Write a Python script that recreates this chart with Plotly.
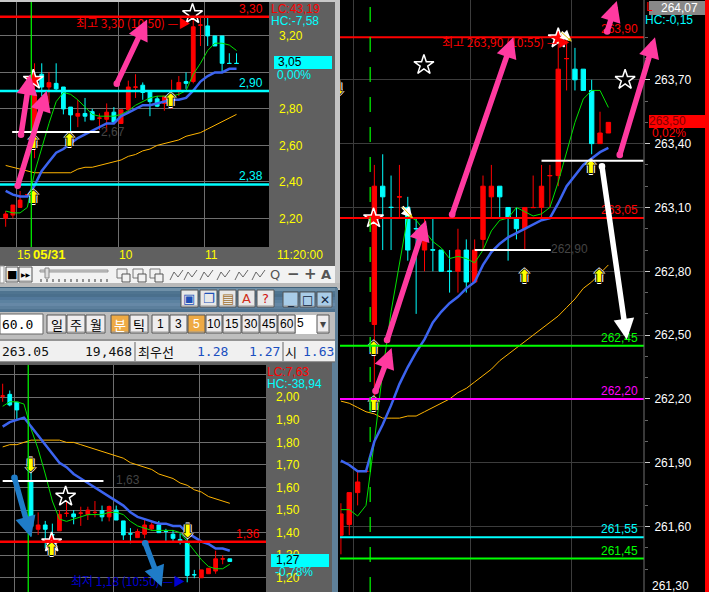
import plotly.graph_objects as go

W, H = 709, 592
NARROW = "Liberation Sans"
KR = "Noto Sans CJK KR"

# ---------- Data: top-left chart ----------
a_open  = [2.20,2.218,2.26,2.329,2.666,2.99,2.92,2.94,2.92,2.81,2.76,2.775,2.785,2.749,2.743,2.782,2.72,2.795,2.919,2.93,2.90,2.855,2.83,2.84,2.90,2.95,2.95,3.259,3.255,3.20,3.20,3.05,3.05]
a_close = [2.224,2.273,2.30,2.33,2.876,2.92,2.944,2.91,2.80,2.767,2.775,2.76,2.74,2.75,2.782,2.728,2.795,2.92,2.92,2.89,2.84,2.815,2.87,2.85,2.945,2.94,3.25,3.26,3.20,3.145,3.05,3.049,3.049]
a_high  = [2.24,2.273,2.35,2.33,3.05,3.05,3.00,3.05,2.92,2.81,2.85,2.86,2.80,2.775,2.83,2.81,2.795,2.955,2.99,2.945,2.90,2.87,2.87,2.96,2.98,3.00,3.30,3.31,3.31,3.20,3.20,3.105,3.105]
a_low   = [2.154,2.20,2.26,2.33,2.53,2.87,2.83,2.90,2.77,2.67,2.70,2.73,2.74,2.685,2.675,2.72,2.72,2.785,2.86,2.85,2.76,2.81,2.79,2.80,2.87,2.91,2.94,3.145,3.145,3.145,3.00,3.049,3.049]
a_ma_blue = [2.35,2.33,2.32,2.32,2.38,2.46,2.51,2.56,2.58,2.61,2.64,2.66,2.68,2.70,2.72,2.72,2.76,2.78,2.80,2.82,2.82,2.83,2.84,2.85,2.85,2.86,2.90,2.95,2.98,3.00,3.00,3.02,3.02]
a_ma_green = [2.24,2.23,2.23,2.26,2.45,2.59,2.72,2.84,2.89,2.88,2.85,2.81,2.77,2.76,2.76,2.76,2.77,2.79,2.82,2.84,2.86,2.87,2.87,2.87,2.88,2.90,2.99,3.05,3.12,3.16,3.16,3.15,3.12]
a_ma_orange = [2.49,2.48,2.47,2.46,2.45,2.45,2.45,2.45,2.45,2.45,2.47,2.48,2.48,2.49,2.50,2.51,2.52,2.54,2.55,2.57,2.58,2.60,2.61,2.62,2.63,2.65,2.66,2.67,2.69,2.71,2.73,2.75,2.77]
a_ticks = [3.2,3.0,2.8,2.6,2.4,2.2]
a_tick_text = ["3,20","","2,80","2,60","2,40","2,20"]

# ---------- Data: bottom-left chart ----------
b_open  = [2.005,2.013,1.978,None,1.626,1.415,1.434,1.391,1.408,1.485,1.483,1.486,1.48,1.489,1.498,1.47,1.50,1.452,1.395,1.378,1.393,1.417,1.434,1.406,1.393,1.37,1.357,1.214,1.20,1.218,1.23,1.283,1.284]
b_close = [2.006,1.966,1.944,None,1.427,1.434,1.415,1.39,1.481,1.486,1.47,1.487,1.50,1.49,1.47,1.516,1.456,1.39,1.394,1.405,1.434,1.434,1.40,1.405,1.375,1.36,1.21,1.213,1.235,1.242,1.284,1.284,1.272]
b_high  = [2.06,2.03,1.978,None,1.685,1.49,1.452,1.44,1.50,1.545,1.50,1.515,1.515,1.54,1.52,1.52,1.52,1.452,1.42,1.417,1.46,1.446,1.452,1.417,1.412,1.397,1.397,1.235,1.235,1.242,1.32,1.30,1.284]
b_low   = [1.98,1.96,1.90,None,1.383,1.39,1.33,1.33,1.408,1.47,1.437,1.43,1.456,1.468,1.45,1.45,1.456,1.368,1.353,1.378,1.375,1.408,1.40,1.363,1.363,1.348,1.18,1.198,1.20,1.218,1.218,1.26,1.272]
b_ma_blue = [1.87,1.89,1.90,1.91,1.87,1.83,1.79,1.75,1.71,1.69,1.66,1.64,1.62,1.60,1.58,1.56,1.54,1.52,1.49,1.47,1.46,1.45,1.44,1.44,1.43,1.43,1.40,1.38,1.36,1.35,1.33,1.33,1.32]
b_ma_green = [1.96,1.98,1.98,1.97,1.86,1.77,1.66,1.54,1.46,1.45,1.46,1.47,1.48,1.48,1.48,1.49,1.49,1.48,1.45,1.43,1.42,1.41,1.41,1.41,1.41,1.40,1.36,1.32,1.28,1.25,1.24,1.24,1.26]
b_ma_orange = [1.78,1.79,1.79,1.80,1.81,1.81,1.81,1.81,1.81,1.80,1.80,1.79,1.78,1.77,1.76,1.75,1.74,1.73,1.71,1.70,1.69,1.68,1.66,1.65,1.64,1.62,1.61,1.59,1.58,1.56,1.55,1.54,1.53]
b_ticks = [2.1,2.0,1.9,1.8,1.7,1.6,1.5,1.4,1.3,1.2]
b_tick_text = ["","2,00","1,90","1,80","1,70","1,60","1,50","1,40","1,30","1,20"]

# ---------- Data: right chart ----------
r_open  = [261.56,261.61,261.76,261.859,262.55,263.20,263.101,263.149,263.10,263.001,262.90,262.901,262.90,262.801,262.80,262.90,262.75,262.95,263.15,263.20,263.10,263.05,263.00,263.099,263.10,263.249,263.25,263.799,263.75,263.75,263.65,263.40,263.45]
r_close = [261.66,261.76,261.81,261.86,263.20,263.15,263.10,263.15,262.90,263.00,262.95,262.90,262.80,262.80,262.90,262.75,262.90,263.20,263.20,263.15,263.05,263.00,263.10,263.10,263.20,263.25,263.75,263.80,263.70,263.65,263.40,263.45,263.50]
r_high  = [261.71,261.76,261.86,261.86,263.30,263.35,263.25,263.30,263.15,263.05,263.05,263.05,262.90,262.90,263.00,262.95,262.95,263.25,263.30,263.20,263.10,263.10,263.10,263.25,263.30,263.30,263.90,263.90,263.85,263.75,263.70,263.55,263.50]
r_low   = [261.47,261.56,261.70,261.859,262.20,262.90,262.90,263.05,262.85,262.60,262.80,262.80,262.80,262.70,262.70,262.70,262.75,262.90,263.05,263.05,262.85,262.95,262.90,263.099,263.05,263.10,263.20,263.65,263.65,263.65,263.35,263.40,263.45]
r_ma_blue = [261.91,261.89,261.86,261.86,262.00,262.08,262.17,262.27,262.35,262.42,262.48,262.56,262.61,262.65,262.68,262.72,262.75,262.83,262.89,262.93,262.96,262.98,263.00,263.02,263.04,263.05,263.12,263.20,263.25,263.30,263.33,263.36,263.38]
r_ma_green = [261.68,261.68,261.65,261.70,262.00,262.33,262.61,262.84,263.06,263.04,262.99,262.94,262.91,262.86,262.87,262.86,262.84,262.90,262.99,263.04,263.05,263.10,263.08,263.06,263.07,263.10,263.22,263.36,263.50,263.61,263.65,263.65,263.57]
r_ma_orange = [262.19,262.18,262.16,262.14,262.13,262.11,262.11,262.11,262.12,262.12,262.14,262.16,262.18,262.20,262.23,262.25,262.28,262.31,262.34,262.38,262.41,262.44,262.47,262.50,262.53,262.56,262.59,262.63,262.67,262.72,262.75,262.79,262.83]
r_ticks = [263.7,263.4,263.1,262.8,262.5,262.2,261.9,261.6]
r_tick_text = ["263,70","263,40","263,10","262,80","262,50","262,20","261,90","261,60"]
r_minor = [263.9,263.8,263.6,263.5,263.3,263.2,263.0,262.9,262.7,262.6,262.4,262.3,262.1,262.0,261.8,261.7,261.5,261.4]

# ---------- Data: markers, levels, arrows  (x = bar number, y = price) ----------
a_stars_red = ([3.83],[2.96]);  a_stars_blk = ([25.9],[3.32])
a_up = ([3.83,3.83,8.82,22.85],[2.31,2.61,2.62,2.84])
b_stars_red = ([6.9],[1.357]);  b_stars_blk = ([8.87],[1.56])
b_up = ([6.9],[1.32]);  b_down = ([3.94,26.06],[1.69,1.40])
r_stars_red = ([3.9,26.0],[263.05,263.895]);  r_stars_blk = ([9.93,34.0],[263.77,263.70])
r_up = ([29.9,21.94,30.9,3.91,3.91],[263.28,262.77,262.77,262.43,262.17])
r_down = ([-0.3],[263.65])

a_levels = [(3.305,"#ff0000",2.5,"3,30"),(2.898,"#00ffff",2.5,"2,90"),(2.386,"#00ffff",2.5,"2,38")]
b_levels = [(1.36,"#ff0000",2.5,"1,36")]
r_levels = [(263.90,"#ff0000",2,"263,90"),(263.05,"#ff0000",2,"263,05"),(262.45,"#00ff00",2,"262,45"),
            (262.20,"#ff00ff",2,"262,20"),(261.55,"#00ffff",2,"261,55"),(261.45,"#00ff00",2,"261,45")]

PINK, STEEL, WHITE = "#ff3aa0", "#1f7cc8", "#ffffff"
a_arrows = [(1.6,2.37,5.7,2.90,PINK),(2.1,2.65,3.4,2.99,PINK),(15.3,2.93,19.6,3.29,PINK)]
b_arrows = [(1.6,1.65,4.0,1.38,STEEL),(20.0,1.36,22.4,1.16,STEEL)]
r_arrows = [(13.24,263.06,20.62,263.90,PINK),(5.46,262.47,10.17,263.04,PINK),(4.07,262.23,6.06,262.44,PINK),
            (31.79,263.92,33.0,264.07,PINK),(33.3,263.34,37.57,263.90,PINK),(31.2,263.30,34.2,262.48,WHITE)]

# ---------- Helpers ----------
def px(x): return x / W
def py(y): return 1 - y / H

shapes, annos = [], []

def rect(x0, y0, x1, y1, fill, line=None, lw=1, layer="below"):
    shapes.append(dict(type="rect", xref="paper", yref="paper", x0=px(x0), x1=px(x1), y0=py(y0), y1=py(y1),
                       fillcolor=fill, line=dict(color=line or fill, width=lw if line else 0), layer=layer))

def seg(x0, y0, x1, y1, color, lw=1, layer="above"):
    shapes.append(dict(type="line", xref="paper", yref="paper", x0=px(x0), x1=px(x1), y0=py(y0), y1=py(y1),
                       line=dict(color=color, width=lw), layer=layer))

def txt(x, y, s, color, size=12, anchor="left", font=NARROW, bold=False):
    if bold: s = "<b>%s</b>" % s
    annos.append(dict(xref="paper", yref="paper", x=px(x), y=py(y), text=s, showarrow=False, xanchor=anchor,
                      yanchor="middle", font=dict(color=color, size=size, family=font), borderpad=0, borderwidth=0))

def level_label(xr, yaxis, value, s, color):
    annos.append(dict(xref="paper", yref=yaxis, x=px(xr), y=value, yshift=8, text=s, showarrow=False, xanchor="right",
                      yanchor="middle", font=dict(color=color, size=12, family=NARROW)))

def pointer(xa, ya, rows, width=5.5, start=True):
    for x0, y0, x1, y1, col in rows:
        annos.append(dict(xref=xa, yref=ya, axref=xa, ayref=ya, x=x1, y=y1, ax=x0, ay=y0, text="", showarrow=True,
                          arrowhead=2, arrowsize=0.75, arrowwidth=width, arrowcolor=col,
                          arrowside="end+start" if start else "end", startarrowhead=6, startarrowsize=0.3))

def button(x0, y0, x1, y1, s=None, fill="#efedee", color="#000000", size=13, font=KR):
    rect(x0, y0, x1, y1, fill, "#555555", 1)
    seg(x0+1, y1-1, x1-1, y1-1, "#9a9a9a", 1)
    if s: txt((x0+x1)/2, (y0+y1)/2, s, color, size, "center", font)

# ---------- Window chrome ----------
rect(0, 0, 709, 592, "#000000")
rect(0, 0, 335, 266, "#606060")
rect(335, 0, 340, 290, "#c4c4c4")
rect(0, 0, 335, 2, "#c8c8c8")
rect(0, 266, 335, 283, "#f2f2f2")
rect(0, 283, 340, 288, "#b9b9b9")
rect(0, 287, 337, 288, "#3f5f78")
for k, c in enumerate(["#6f90a8","#4f7490","#4a6f8c","#52789a","#5c82a0","#6688a6","#5c7f9c","#4f7390"]):
    rect(0, 288+k*3, 337, 288+(k+1)*3, c)
rect(0, 312, 335, 362, "#bebebe")
rect(335, 288, 338, 362, "#5f8099")
rect(0, 341, 335, 361, "#f0f0f0")
seg(0, 340, 335, 340, "#6a6a6a", 1); seg(0, 362, 335, 362, "#6a6a6a", 1)
rect(0, 362, 332, 592, "#606060")
rect(332, 362, 338, 592, "#5f8099")

# chart backgrounds
rect(0, 2, 269, 247, "#000000")
rect(0, 365, 266, 592, "#000000")
rect(340, 0, 644, 592, "#000000")
rect(705, 0, 709, 592, "#ff0000")

# lower toolbar
rect(0, 314, 43, 334, "#ffffff", "#666666")
txt(2, 324, "60.0", "#000000", 13, font="DejaVu Sans Mono")
for x0, x1, s in [(47,66,"일"),(67,85,"주"),(86,105,"월"),(130,148,"틱")]:
    button(x0, 315, x1, 333, s)
button(111, 315, 129, 333, "분", "#eeaa44", "#ffffff", 13)
for x0, x1, s in [(152,169,"1"),(170,187,"3"),(206,222,"10"),(223,241,"15"),(242,259,"30"),(260,277,"45"),(278,295,"60")]:
    button(x0, 315, x1, 333, s, size=12, font=NARROW)
button(188, 315, 205, 333, "5", "#eeaa44", "#ffffff", 12, NARROW)
rect(296, 315, 317, 334, "#ffffff")
txt(297, 323, "5", "#000000", 12, font=NARROW)
button(317, 315, 329, 333, "▾", size=12, color="#444444", font="DejaVu Sans")

# info row
txt(2, 351, "263.05", "#111111", 13, font="DejaVu Sans Mono")
txt(132, 351, "19,468", "#111111", 13, "right", "DejaVu Sans Mono")
seg(135, 342, 135, 361, "#666666")
txt(138, 351, "최우선", "#111111", 13, font=KR)
txt(228, 351, "1.28", "#1a4fc0", 13, "right", "DejaVu Sans Mono")
txt(280, 351, "1.27", "#1a4fc0", 13, "right", "DejaVu Sans Mono")
seg(283, 342, 283, 361, "#666666")
txt(285, 351, "시", "#111111", 13, font=KR)
txt(334, 351, "1.63", "#1a4fc0", 13, "right", "DejaVu Sans Mono")

# title bar buttons
for x0, s, col in [(181,"▣","#2050b8"),(200,"❐","#2050b8"),(219,"▤","#a07030"),(238,"A","#d03020"),(257,"?","#d01010")]:
    button(x0, 290, x0+17, 307, s, "#e8e8e8", col, 13, "DejaVu Sans")
for x0, s in [(283,"_"),(300,"□"),(317,"✕")]:
    button(x0, 292, x0+15, 307, s, "#a8cce8", "#10243c", 12, "DejaVu Sans")

# upper toolbar
rect(0, 266, 4, 283, "#f8f8f8", "#999999")
button(6, 267, 18, 282, "■", "#f4f4f4", "#000000", 11, "DejaVu Sans")
button(19, 267, 32, 282, "▶▶", "#f4f4f4", "#000000", 6, "DejaVu Sans")
rect(40, 270, 108, 272, "#cccccc", "#999999")
rect(45, 268, 49, 278, "#dddddd", "#888888")
for xt in range(41, 108, 6):
    seg(xt, 279, xt, 282, "#333333", 1)
for x0 in (117, 133, 150):
    rect(x0, 269, x0+10, 278, "#f2f2f2", "#777777")
    rect(x0+5, 274, x0+13, 282, "#f2f2f2", "#555555")
for x0 in (170, 184, 200, 217, 235, 252):
    seg(x0, 280, x0+4, 272, "#666666"); seg(x0+4, 272, x0+8, 277, "#666666"); seg(x0+8, 277, x0+13, 270, "#666666")
txt(275, 274, "Q", "#555555", 13, "center", "DejaVu Sans")
txt(293, 274, "−", "#555555", 15, "center", "DejaVu Sans", True)
txt(310, 274, "+", "#555555", 15, "center", "DejaVu Sans", True)
txt(326, 274, "A", "#555555", 13, "center", "DejaVu Sans", True)

# footer of the top-left chart
txt(24, 255, "15", "#ffff00", 12, "center")
txt(49, 255, "05/31", "#ffff00", 13, "center", bold=True)
txt(126, 255, "10", "#ffff00", 12, "center")
txt(211, 255, "11", "#ffff00", 12, "center")
txt(300, 255, "11:20:00", "#ffff00", 12, "center")

# gutter read-outs
txt(271, 9, "LC:43,19", "#ff0000"); txt(271, 21, "HC:-7,58", "#00ffff")
rect(274, 56, 332, 69, "#00ffff"); txt(278, 62, "3,05", "#000000"); txt(277, 75, "0,00%", "#00ffff")
txt(267, 372, "LC:7,63", "#ff0000"); txt(267, 384, "HC:-38,94", "#00ffff")
rect(271, 554, 329, 567, "#00ffff", layer="above"); txt(276, 560, "1,27", "#000000"); txt(275, 572, "-0,78%", "#00ffff")
txt(646, 7, "L", "#ff0000"); rect(649, 1, 705, 15, "#888888"); txt(698, 8, "264,07", "#ffffff", 12, "right")
txt(645, 20, "HC:-0,15", "#00ffff")
rect(649, 115, 705, 128, "#ff0000", layer="above"); txt(686, 121, "263,50", "#800000", 12, "right"); txt(652, 133, "0,02%", "#ff0000")
txt(652, 586, "261,30", "#ffffff")

# in-chart captions
txt(190, 22, "최고 3,30 (10:50) —▶", "#ff0000", 12, "right", KR)
txt(113, 132, "2,67", "#444444", 12, "center")
txt(128, 480, "1,63", "#444444", 12, "center")
txt(185, 580, "최저 1,18 (10:50) —▶", "#0000d0", 12, "right", KR)
txt(570, 41, "최고 263,90 (10:55) —▶", "#ff0000", 12, "right", KR)
txt(569, 249, "262,90", "#444444", 12, "center")

# ---------- Traces ----------
fig = go.Figure()

def add_panel(ax, ay, o, h, l, c, blue, green, orange):
    xs = list(range(len(o)))
    fig.add_trace(go.Candlestick(x=xs, open=o, high=h, low=l, close=c, xaxis=ax, yaxis=ay, whiskerwidth=0,
                                 increasing=dict(line=dict(color="#ff0000", width=1), fillcolor="#ff0000"),
                                 decreasing=dict(line=dict(color="#00ffff", width=1), fillcolor="#00ffff"),
                                 hoverinfo="skip", showlegend=False))
    for vals, col, w in [(orange, "#ffb400", 1), (green, "#00e000", 1), (blue, "#3c64f0", 2.5)]:
        fig.add_trace(go.Scatter(x=xs, y=vals, mode="lines", xaxis=ax, yaxis=ay, line=dict(color=col, width=w),
                                 hoverinfo="skip", showlegend=False))

def add_glyphs(ax, ay, red=None, blk=None, up=None, down=None):
    for pts, col in [(red, "#ff0000"), (blk, "#000000")]:
        if pts:
            fig.add_trace(go.Scatter(x=pts[0], y=pts[1], mode="markers", xaxis=ax, yaxis=ay, showlegend=False, hoverinfo="skip",
                                     marker=dict(symbol="star", size=15, color=col, line=dict(color="#ffffff", width=1.5))))
    for pts, s in [(up, "⬆"), (down, "⬇")]:
        if pts:
            fig.add_trace(go.Scatter(x=pts[0], y=pts[1], mode="text", text=[s]*len(pts[0]), xaxis=ax, yaxis=ay, showlegend=False,
                                     hoverinfo="skip", textposition="middle center",
                                     textfont=dict(family="DejaVu Sans", size=17, color="#ffff00",
                                                   shadow="1px 0 0 #000, -1px 0 0 #000, 0 1px 0 #000, 0 -1px 0 #000, 2px 0 0 #fff, -2px 0 0 #fff, 0 2px 0 #fff, 0 -2px 0 #fff")))

add_panel("x", "y", a_open, a_high, a_low, a_close, a_ma_blue, a_ma_green, a_ma_orange)
add_panel("x2", "y2", b_open, b_high, b_low, b_close, b_ma_blue, b_ma_green, b_ma_orange)
add_panel("x3", "y3", r_open, r_high, r_low, r_close, r_ma_blue, r_ma_green, r_ma_orange)
add_glyphs("x", "y", a_stars_red, a_stars_blk, a_up)
add_glyphs("x2", "y2", b_stars_red, b_stars_blk, b_up, b_down)
add_glyphs("x3", "y3", r_stars_red, r_stars_blk, r_up, r_down)
# helper trace so the wide overlay axes exist
fig.add_trace(go.Scatter(x=[], y=[], xaxis="x4", yaxis="y4", showlegend=False, hoverinfo="skip"))

# ---------- Levels and vertical markers ----------
def hline(ax_dom, ay, v, col, w, x0=0, x1=1):
    shapes.append(dict(type="line", xref=ax_dom, yref=ay, x0=x0, x1=x1, y0=v, y1=v, line=dict(color=col, width=w), layer="above"))

for v, col, w, s in a_levels:
    hline("x domain", "y", v, col, w); level_label(265, "y", v, s, col)
for v, col, w, s in b_levels:
    hline("x2 domain", "y2", v, col, w); level_label(262, "y2", v, s, col)
for v, col, w, s in r_levels:
    hline("x3 domain", "y3", v, col, w); level_label(640, "y3", v, s, col)

def vmark(ax, ayd, i, dash):
    shapes.append(dict(type="line", xref=ax, yref=ayd, x0=i, x1=i, y0=0, y1=1, line=dict(color="#00ff00", width=1.2, dash=dash), layer="above"))
vmark("x", "y domain", 3.55, "solid"); vmark("x2", "y2 domain", 3.6, "solid"); vmark("x3", "y3 domain", 3.5, "longdash")

def white(ax, ay, i0, i1, v):
    shapes.append(dict(type="line", xref=ax, yref=ay, x0=i0, x1=i1, y0=v, y1=v, line=dict(color="#ffffff", width=2), layer="above"))
white("x", "y", 0.9, 13.0, 2.673)
white("x2", "y2", 0.0, 14.2, 1.629)
white("x3", "y3", 24.0, 36.2, 263.32)
white("x3", "y3", 16.0, 25.1, 262.90)

pointer("x", "y", a_arrows)
pointer("x2", "y2", b_arrows)
pointer("x4", "y4", r_arrows)
for x0, y0, x1, y1 in [(7.18,263.11,8.58,263.05),(26.2,263.93,27.6,263.88)]:
    pointer("x3", "y3", [(x0, y0, x1, y1, "#ffffff")], 3, False)
    pointer("x3", "y3", [(x0, y0, x1, y1, "#e0c000")], 1, False)

# ---------- Axes ----------
def x_axis(dom, rng, grid, col):
    return dict(domain=[px(dom[0]), px(dom[1])], range=rng, tickmode="array", tickvals=grid, showticklabels=False, ticks="",
                showgrid=True, gridcolor=col, gridwidth=1, zeroline=False, showline=False, rangeslider=dict(visible=False), fixedrange=True)

def y_axis(dom, rng, ax, vals, text, col, grid, standoff, **kw):
    return dict(domain=[py(dom[1]), py(dom[0])], range=rng, anchor=ax, side="right", tickmode="array", tickvals=vals, ticktext=text,
                tickfont=dict(color=col, size=12, family=NARROW), showgrid=True, gridcolor=grid, gridwidth=1, zeroline=False,
                showline=False, ticklabelstandoff=standoff, fixedrange=True, **kw)

fig.update_layout(
    width=W, height=H, margin=dict(l=0, r=0, t=0, b=0), autosize=False,
    paper_bgcolor="#000000", plot_bgcolor="rgba(0,0,0,0)", showlegend=False, hovermode=False, boxgap=0.25,
    xaxis=x_axis((0, 269), [-0.785, 36.5], [1.53, 15.6, 27.5], "#6e6e6e"),
    yaxis=y_axis((2, 247), [2.043, 3.386], "x", a_ticks, a_tick_text, "#ffff00", "#6e6e6e", 9, ticks=""),
    xaxis2=x_axis((0, 266), [-0.376, 37.1], [1.69, 15.6, 27.7], "#6e6e6e"),
    yaxis2=y_axis((365, 592), [1.137, 2.143], "x2", b_ticks, b_tick_text, "#ffff00", "#6e6e6e", 9, ticks=""),
    xaxis3=x_axis((340, 644), [-0.11, 36.26], [1.45, 15.5, 27.6], "#3c3c3c"),
    yaxis3=y_axis((0, 592), [261.293, 264.075], "x3", r_ticks, r_tick_text, "#ffffff", "#3c3c3c", 2,
                  ticks="outside", ticklen=5, tickcolor="#cccccc", tickwidth=1,
                  minor=dict(tickvals=r_minor, ticks="outside", ticklen=3, tickcolor="#666666", tickwidth=1, showgrid=False)),
    xaxis4=dict(domain=[px(340), px(704)], range=[-0.11, 43.43], visible=False, fixedrange=True),
    yaxis4=dict(domain=[0, 1], range=[261.293, 264.075], anchor="x4", visible=False, fixedrange=True),
    shapes=shapes, annotations=annos,
)
fig.add_shape(type="line", xref="paper", yref="paper", x0=px(644), x1=px(644), y0=0, y1=1, line=dict(color="#707070", width=1))

fig.write_html("out.html", config={"displayModeBar": False},
               post_script="document.body.style.margin='0';document.body.style.overflow='hidden';window.dispatchEvent(new Event('resize'));")
